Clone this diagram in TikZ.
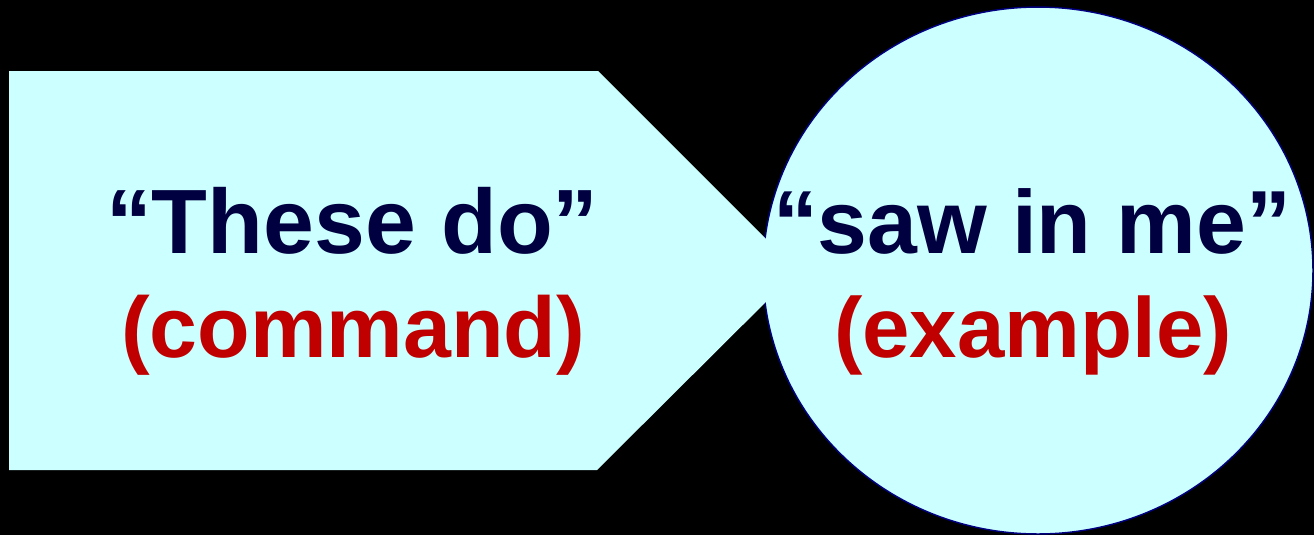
\documentclass[tikz,border=0pt]{standalone}
\usepackage{fontspec}
\setmainfont{Liberation Sans}
\usepackage{xcolor}
\usepackage{tikz}
\definecolor{paleaqua}{HTML}{CCFFFF}
\definecolor{inknavy}{HTML}{000040}
\definecolor{inkred}{HTML}{C00000}
\definecolor{rimnavy}{HTML}{000080}
\tikzset{every node/.append style={anchor=base}}
\newcommand{\bigtxt}[1]{\fontsize{#1}{1.15\dimexpr#1pt\relax}\selectfont\bfseries}

\begin{document}
\begin{tikzpicture}[x=0.02cm, y=-0.02cm]
    \fill[black] (0,0) rectangle (1314,535);
    \useasboundingbox (0,0) rectangle (1314,535);
    \filldraw[fill=paleaqua, draw=rimnavy, line width=0.8pt] (1038,270.5) ellipse [x radius=5.5cm, y radius=5.27cm];
    \fill[paleaqua] (9,71) -- (598,71) -- (797.5,270.5) -- (597,470) -- (9,470) -- cycle;
    \node[inknavy, font=\bigtxt{52}] (these) at (352.5,253) {“These do”};
    \node[inkred, font=\bigtxt{49}] (command) at (353,357) {(command)};
    \node[inknavy, font=\bigtxt{51}] (saw) at (1032,253) {“saw in me”};
    \node[inkred, font=\bigtxt{48.5}] (example) at (1033,357) {(example)};
\end{tikzpicture}
\end{document}
